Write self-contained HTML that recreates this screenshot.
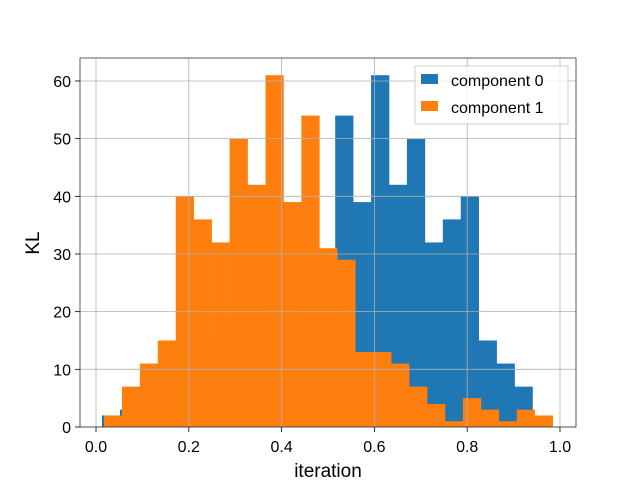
<!DOCTYPE html>
<html><head><meta charset="utf-8"><style>
html,body{margin:0;padding:0;background:#fff;}
svg{display:block;font-family:"Liberation Sans","DejaVu Sans",sans-serif;}
</style></head><body>
<svg id="chart" width="640" height="480" xmlns="http://www.w3.org/2000/svg">
<rect x="0" y="0" width="640" height="480" fill="#fff"/>
<g id="bars0"></g>
<g id="bars1"></g>
<g id="grid"></g>
<rect x="80" y="58" width="496" height="369" fill="none" stroke="#333" stroke-width="0.8"/>
<g id="xticks"></g>
<g id="yticks"></g>
<text x="328" y="477" font-size="19" text-anchor="middle" fill="#000">iteration</text>
<text x="39" y="243" font-size="19" text-anchor="middle" fill="#000" transform="rotate(-90 39 243)">KL</text>
<g>
<rect x="415" y="66" width="153" height="58" fill="#fff" fill-opacity="0.8" stroke="#ccc"/>
<rect x="421" y="74" width="17" height="10" fill="#1f77b4"/>
<text x="451" y="86" font-size="16" fill="#000">component 0</text>
<rect x="421" y="101" width="17" height="10" fill="#ff7f0e"/>
<text x="451" y="113" font-size="16" fill="#000">component 1</text>
</g>
</svg>
<script>
const blueStart = 0.0129;
const blueWidth = 0.03866;
const blueCounts = [2,3,4,6,8,12,15,18,20,22,25,27,28,54,39,61,42,50,32,36,40,15,11,7];
const orangeStart = 0.0172;
const orangeWidth = 0.03868;
const orangeCounts = [2,7,11,15,40,36,32,50,42,61,39,54,31,29,13,13,11,7,4,1,5,3,1,3,2];
const xTicks = [0,0.2,0.4,0.6,0.8,1.0];
const xTickLabels = ["0.0","0.2","0.4","0.6","0.8","1.0"];
const yTicks = [0,10,20,30,40,50,60];

const NS = "http://www.w3.org/2000/svg";
const X0 = 96, XS = 464, Y0 = 427, YS = 5.767;
function xs(v){ return X0 + v*XS; }
function ys(v){ return Y0 - v*YS; }
function mk(tag, attrs, parent){
  const e = document.createElementNS(NS, tag);
  for (const k in attrs) e.setAttribute(k, attrs[k]);
  parent.appendChild(e); return e;
}
function drawBars(gid, start, width, counts, color, nm){
  const g = document.getElementById(gid);
  counts.forEach((c, i) => {
    const a = xs(start + i*width), b = xs(start + (i+1)*width);
    const r = mk('rect', {x:a, y:ys(c), width:b-a+0.3, height:Y0-ys(c), fill:color}, g);
    
    
  });
}
drawBars('bars0', blueStart, blueWidth, blueCounts, '#1f77b4', 'component-0');
drawBars('bars1', orangeStart, orangeWidth, orangeCounts, '#ff7f0e', 'component-1');

const grid = document.getElementById('grid');
const xg = document.getElementById('xticks');
const yg = document.getElementById('yticks');
xTicks.forEach((t, i) => {
  const x = xs(t);
  const gl = mk('line', {x1:x, x2:x, y1:58, y2:427, stroke:'#b0b0b0', 'stroke-width':0.8}, grid);
  
  
  const tk = mk('line', {x1:x, x2:x, y1:427, y2:432, stroke:'#000', 'stroke-width':0.8}, xg);
  
  
  const tx = mk('text', {x:x, y:452, 'font-size':16, 'text-anchor':'middle', fill:'#000'}, xg);
  tx.textContent = xTickLabels[i];
  
  
});
yTicks.forEach(t => {
  const y = ys(t);
  const gl = mk('line', {x1:80, x2:576, y1:y, y2:y, stroke:'#b0b0b0', 'stroke-width':0.8}, grid);
  
  
  const tk = mk('line', {x1:75, x2:80, y1:y, y2:y, stroke:'#000', 'stroke-width':0.8}, yg);
  
  
  const tx = mk('text', {x:71, y:y+6, 'font-size':16, 'text-anchor':'end', fill:'#000'}, yg);
  tx.textContent = String(t);
  
  
});
</script>
</body></html>
